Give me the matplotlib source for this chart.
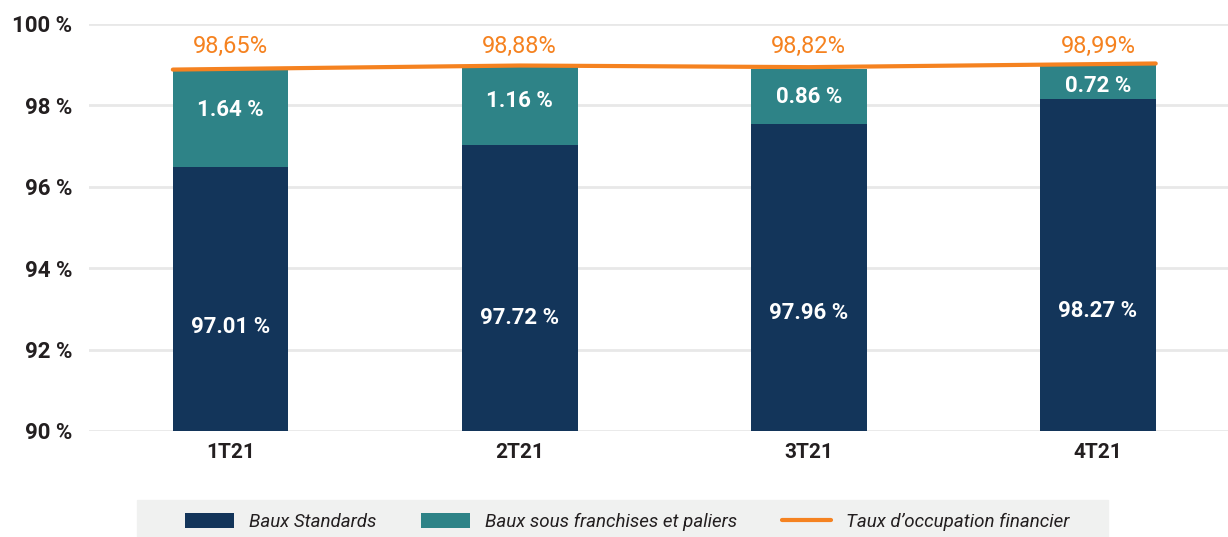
import matplotlib.pyplot as plt
import numpy as np

# values as drawn in the picture (heights do not follow the printed labels)
quarters = ['1T21', '2T21', '3T21', '4T21']
standard_top = [96.49, 97.03, 97.54, 98.16]
franchise_top = [98.87, 98.94, 98.89, 98.99]
occupation_line = [98.88, 98.98, 98.94, 99.03]

standard_labels = ['97.01 %', '97.72 %', '97.96 %', '98.27 %']
franchise_labels = ['1.64 %', '1.16 %', '0.86 %', '0.72 %']
occupation_labels = ['98,65%', '98,88%', '98,82%', '98,99%']
standard_label_y = [92.55, 92.77, 92.90, 92.95]
franchise_label_y = [97.89, 98.11, 98.21, 98.48]

yticks = [90, 92, 94, 96, 98, 100]

navy = '#13355A'
teal = '#2E8387'
orange = '#F58220'
txt = '#231F20'

plt.rcParams['font.family'] = ['Roboto', 'DejaVu Sans']

fig = plt.figure(figsize=(12.28, 5.37), dpi=100)
ax = fig.add_axes([89 / 1228, (537 - 431) / 537, 1 - 89 / 1228, (431 - 24) / 537])

x = np.arange(len(quarters))
w = 0.40
base = 90
b1 = ax.bar(x, np.array(standard_top) - base, w, bottom=base, color=navy, zorder=2,
            label='Baux Standards')
b2 = ax.bar(x, np.array(franchise_top) - np.array(standard_top), w, bottom=standard_top,
            color=teal, zorder=2, label='Baux sous franchises et paliers')

lx = x.astype(float)
lx[0] -= w / 2
lx[-1] += w / 2
ln, = ax.plot(lx, occupation_line, color=orange, lw=3, zorder=3, solid_capstyle='round',
              label="Taux d\u2019occupation financier")

for i in range(len(quarters)):
    ax.text(x[i], standard_label_y[i], standard_labels[i], ha='center', va='center',
            color='white', fontsize=16, fontweight='bold')
    ax.text(x[i], franchise_label_y[i], franchise_labels[i], ha='center', va='center',
            color='white', fontsize=16, fontweight='bold')
    ax.text(x[i], 99.46, occupation_labels[i], ha='center', va='center',
            color=orange, fontsize=17)

ax.set_xlim(-0.49, 3.45)
ax.set_ylim(90, 100)
ax.set_yticks(yticks)
ax.set_yticklabels([f'{t} %' for t in yticks], fontsize=16, fontweight='bold', color=txt)
ax.set_xticks(x)
ax.set_xticklabels(quarters, fontsize=15, fontweight='bold', color=txt)
ax.tick_params(length=0, axis='y', pad=12)
ax.tick_params(length=0, axis='x', pad=9)
ax.grid(axis='y', color='#E8E8E8', lw=2, zorder=0)
ax.set_axisbelow(True)
for s in ax.spines.values():
    s.set_visible(False)

# legend band
fig.patches.append(plt.Rectangle((137 / 1228, 0), (1108 - 137) / 1228, 37 / 537,
                                 transform=fig.transFigure, color='#F0F1F0', zorder=0))
leg = fig.legend(handles=[b1, b2, ln], loc='center', bbox_to_anchor=(627 / 1228, 15 / 537),
                 ncol=3, frameon=False, handlelength=2.6, handleheight=0.9,
                 handletextpad=0.8, columnspacing=2.4,
                 prop={'style': 'italic', 'size': 13.5})
for t in leg.get_texts():
    t.set_color(txt)

fig.savefig('out.png', dpi=100)
